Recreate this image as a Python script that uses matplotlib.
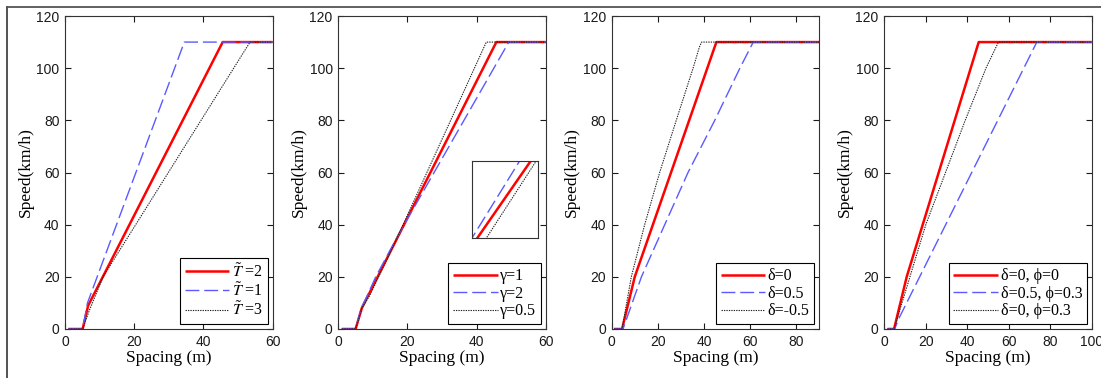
import matplotlib
matplotlib.use("Agg")
import matplotlib.pyplot as plt
from matplotlib.lines import Line2D

# ---------- data ----------
# panel 1 : effect of T~
p1_red_x = [1, 5.1, 6.7, 45.6, 60]
p1_red_y = [0, 0, 9, 110, 110]
p1_blue_x = [1, 5.1, 6.5, 34.5, 60]
p1_blue_y = [0, 0, 10, 110, 110]
p1_black_x = [1, 5.1, 7, 11, 53.5, 60]
p1_black_y = [0, 0, 7, 20, 110, 110]
p1_labels = [r"$\tilde{T}$ =2", r"$\tilde{T}$ =1", r"$\tilde{T}$ =3"]

# panel 2 : effect of gamma
p2_red_x = [1, 5, 6.8, 45.7, 60]
p2_red_y = [0, 0, 8, 110, 110]
p2_blue_x = [1, 5, 6.6, 8.44, 10.82, 17.5, 49.3, 60]
p2_blue_y = [0, 0, 8, 13, 20, 36.4, 110, 110]
p2_black_x = [1, 5, 6.8, 9.16, 11.65, 17.5, 42.8, 60]
p2_black_y = [0, 0, 8, 13, 20, 36.4, 110, 110]
p2_labels = ["γ=1", "γ=2", "γ=0.5"]

# panel 3 : effect of delta
p3_red_x = [1, 4.5, 10, 45.4, 90]
p3_red_y = [0, 0, 20, 110, 110]
p3_blue_x = [1, 4.9, 12.9, 23, 33.1, 44.7, 55.6, 61.4, 90]
p3_blue_y = [0, 0, 20, 40, 60, 80, 100, 110, 110]
p3_black_x = [1, 4.5, 8.5, 14.3, 20.8, 28, 35.3, 38, 39, 90]
p3_black_y = [0, 0, 20, 40, 60, 80, 100, 108, 110, 110]
p3_labels = ["δ=0", "δ=0.5", "δ=-0.5"]

# panel 4 : effect of delta and phi
p4_red_x = [1.5, 4.7, 10.8, 45.5, 100]
p4_red_y = [0, 0, 20, 110, 110]
p4_blue_x = [1.5, 5, 7, 73.5, 100]
p4_blue_y = [0, 0, 4, 110, 110]
p4_black_x = [1.5, 4.8, 7, 20, 39, 49, 55, 100]
p4_black_y = [0, 0, 6, 40, 80, 100, 110, 110]
p4_labels = ["δ=0, ϕ=0", "δ=0.5, ϕ=0.3", "δ=0, ϕ=0.3"]

panels = [
    (p1_red_x, p1_red_y, p1_blue_x, p1_blue_y, p1_black_x, p1_black_y, p1_labels, 60, [0, 20, 40, 60]),
    (p2_red_x, p2_red_y, p2_blue_x, p2_blue_y, p2_black_x, p2_black_y, p2_labels, 60, [0, 20, 40, 60]),
    (p3_red_x, p3_red_y, p3_blue_x, p3_blue_y, p3_black_x, p3_black_y, p3_labels, 90, [0, 20, 40, 60, 80]),
    (p4_red_x, p4_red_y, p4_blue_x, p4_blue_y, p4_black_x, p4_black_y, p4_labels, 100, [0, 20, 40, 60, 80, 100]),
]
y_ticks = [0, 20, 40, 60, 80, 100, 120]

serif = ["Liberation Serif", "DejaVu Serif"]
sans = ["Liberation Sans", "DejaVu Sans"]
plt.rcParams["font.family"] = sans
plt.rcParams["mathtext.fontset"] = "stix"

RED = dict(color="#ff0000", lw=1.8, solid_capstyle="butt")
BLUE = dict(color="#5a5aff", lw=1.0, dashes=(10, 3.5))
BLACK = dict(color="#222222", lw=0.8, dashes=(1.2, 1.0))


def style_axes(ax):
    ax.tick_params(direction="in", top=True, right=True, length=4, width=0.8,
                   labelsize=10, colors="#1a1a1a", pad=4)
    for sp in ax.spines.values():
        sp.set_color("#333333")
        sp.set_linewidth(0.8)


fig = plt.figure(figsize=(11.01, 3.78), dpi=100)
W, H = 1101.0, 378.0
lefts = [65, 338.3, 611.7, 884.3]
ax_w = 207.5
ax_bottom = (H - 329) / H
ax_h = 313 / H

for i, (rx, ry, bx, by, kx, ky, labels, xmax, xt) in enumerate(panels):
    ax = fig.add_axes([lefts[i] / W, ax_bottom, ax_w / W, ax_h])
    ax.plot(rx, ry, label=labels[0], **RED)
    ax.plot(bx, by, label=labels[1], **BLUE)
    ax.plot(kx, ky, label=labels[2], **BLACK)
    ax.set_xlim(0, xmax)
    ax.set_ylim(0, 120)
    ax.set_xticks(xt)
    ax.set_yticks(y_ticks)
    style_axes(ax)
    ax.set_xlabel("Spacing (m)", family=serif, fontsize=12.5, labelpad=1)
    ax.set_ylabel("Speed(km/h)", family=serif, fontsize=12.5, labelpad=2)
    leg = ax.legend(loc="lower right", prop={"family": serif, "size": 11.5},
                    fancybox=False, framealpha=1, edgecolor="black",
                    handlelength=2.8, handletextpad=0.15, labelspacing=0.1,
                    borderaxespad=0.3, borderpad=0.3)
    leg.get_frame().set_linewidth(0.8)

    if i == 1:
        # zoomed view of the lower part of the gamma curves
        ins = fig.add_axes([472 / W, (H - 238) / H, 66 / W, 77 / H])
        ins.plot(rx, ry, **RED)
        ins.plot(bx, by, **BLUE)
        ins.plot(kx, ky, **BLACK)
        ins.set_xlim(8.44, 11.74)
        ins.set_ylim(13, 20)
        ins.set_xticks([])
        ins.set_yticks([])
        for sp in ins.spines.values():
            sp.set_color("#333333")
            sp.set_linewidth(0.8)

# frame of the original figure (left and top edges only)
fig.add_artist(Line2D([7 / W, 7 / W], [0, 1 - 6.5 / H], transform=fig.transFigure,
                      color="#444444", lw=1.3))
fig.add_artist(Line2D([7 / W, 1], [1 - 6.5 / H, 1 - 6.5 / H], transform=fig.transFigure,
                      color="#555555", lw=1.3))

fig.savefig("out.png", dpi=100)
